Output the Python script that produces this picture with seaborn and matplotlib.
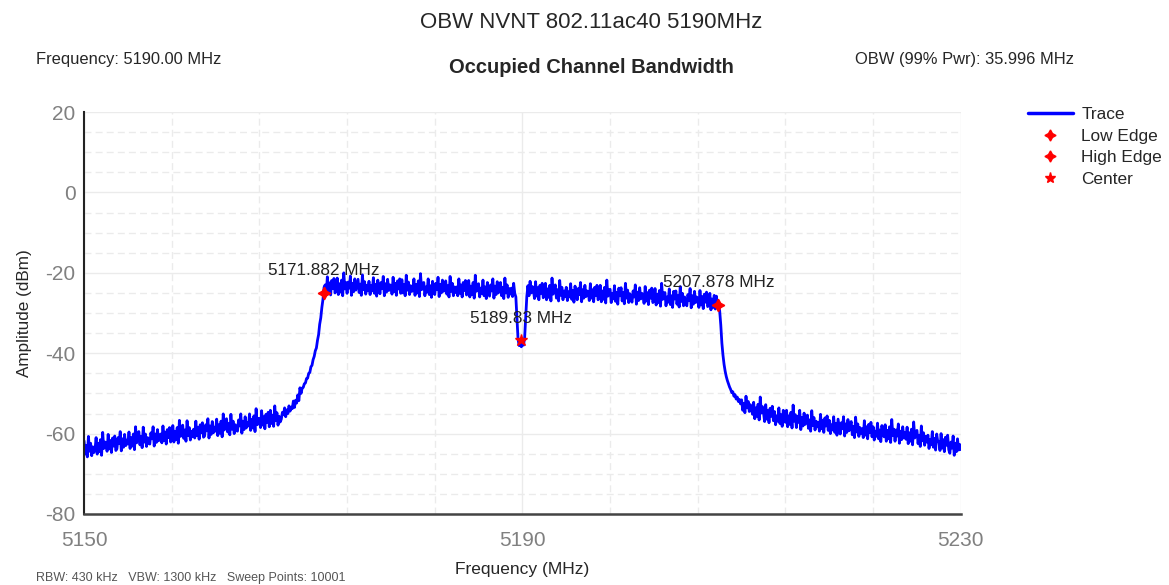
import numpy as np
import pandas as pd
import seaborn as sns
import matplotlib.pyplot as plt
from matplotlib.lines import Line2D
from matplotlib.ticker import FixedLocator

# trace amplitude (dBm), one value every 0.1 MHz from 5150 to 5230 MHz (one row = 1 MHz)
amp = [
    -61.8, -65.1, -63.0, -65.8, -60.7, -64.4, -62.4, -65.5, -63.3, -64.7,
    -64.0, -61.0, -65.1, -62.4, -64.5, -61.5, -65.4, -59.7, -63.7, -62.1,
    -62.2, -64.4, -60.2, -63.8, -61.7, -64.7, -61.1, -63.1, -60.6, -64.2,
    -63.8, -61.0, -62.5, -59.5, -64.3, -61.3, -63.4, -60.2, -63.0, -61.6,
    -62.6, -59.6, -63.7, -61.0, -63.1, -60.1, -64.0, -58.3, -62.3, -60.7,
    -59.5, -62.8, -60.7, -63.5, -58.4, -62.1, -60.1, -63.2, -61.0, -62.4,
    -62.6, -59.8, -61.3, -58.3, -63.1, -60.1, -62.2, -59.0, -61.8, -60.4,
    -60.1, -62.3, -58.1, -61.7, -59.6, -62.6, -59.0, -61.0, -58.5, -62.1,
    -61.0, -58.0, -62.1, -59.4, -61.5, -58.5, -62.4, -56.7, -60.7, -59.1,
    -57.9, -61.2, -59.1, -61.9, -56.8, -60.5, -58.5, -61.6, -59.4, -60.8,
    -58.9, -61.1, -56.9, -60.5, -58.4, -61.4, -57.8, -59.8, -57.3, -60.9,
    -60.6, -57.8, -59.3, -56.3, -61.1, -58.1, -60.2, -57.0, -59.8, -58.4,
    -59.4, -56.4, -60.5, -57.8, -59.9, -56.9, -60.8, -55.1, -59.1, -57.5,
    -56.3, -59.6, -57.5, -60.3, -55.2, -58.9, -56.9, -60.0, -57.8, -59.2,
    -59.4, -56.6, -58.1, -55.1, -59.9, -56.9, -59.0, -55.8, -58.6, -57.2,
    -58.1, -55.1, -59.2, -56.5, -58.6, -55.6, -59.5, -53.8, -57.8, -56.2,
    -56.3, -58.5, -54.3, -57.9, -55.8, -58.8, -55.2, -57.2, -54.7, -58.3,
    -54.2, -57.5, -55.4, -58.2, -53.1, -56.8, -54.8, -57.9, -55.7, -57.1,
    -56.4, -54.7, -55.3, -53.6, -55.8, -54.1, -55.0, -53.1, -54.4, -53.4,
    -53.8, -51.9, -53.5, -51.7, -52.4, -50.4, -51.8, -48.6, -50.0, -48.7,
    -48.5, -47.6, -47.4, -46.3, -46.2, -45.0, -44.8, -43.4, -43.0, -41.6,
    -40.8, -39.4, -38.7, -36.8, -35.4, -32.8, -31.2, -28.6, -26.6, -23.6,
    -23.0, -25.2, -21.0, -24.6, -22.5, -25.5, -21.9, -23.9, -21.4, -25.0,
    -24.3, -21.3, -25.4, -22.7, -24.8, -21.8, -25.7, -20.0, -24.0, -22.4,
    -25.1, -22.3, -23.8, -20.8, -25.6, -22.6, -24.7, -21.5, -24.3, -22.9,
    -21.6, -24.9, -22.8, -25.6, -20.5, -24.2, -22.2, -25.3, -23.1, -24.5,
    -22.1, -25.4, -23.2, -24.5, -21.2, -25.1, -22.9, -25.8, -21.8, -23.7,
    -25.2, -22.4, -23.9, -20.9, -25.7, -22.7, -24.8, -21.6, -24.4, -23.0,
    -23.1, -25.3, -21.1, -24.7, -22.6, -25.6, -22.0, -24.0, -21.5, -25.1,
    -21.7, -25.0, -22.9, -25.7, -20.6, -24.3, -22.3, -25.4, -23.2, -24.6,
    -24.5, -21.5, -25.6, -22.9, -25.0, -22.0, -25.9, -20.2, -24.2, -22.6,
    -22.4, -25.7, -23.5, -24.8, -21.5, -25.4, -23.2, -26.1, -22.1, -24.0,
    -25.4, -22.6, -24.1, -21.1, -25.9, -22.9, -25.0, -21.8, -24.6, -23.2,
    -22.0, -25.3, -23.2, -26.0, -20.9, -24.6, -22.6, -25.7, -23.5, -24.9,
    -23.5, -25.7, -21.5, -25.1, -23.0, -26.0, -22.4, -24.4, -21.9, -25.5,
    -24.9, -21.9, -26.0, -23.3, -25.4, -22.4, -26.3, -20.6, -24.6, -23.0,
    -22.7, -26.0, -23.8, -25.1, -21.8, -25.7, -23.5, -26.4, -22.4, -24.3,
    -25.8, -23.0, -24.5, -21.5, -26.3, -23.3, -25.4, -22.2, -25.0, -23.6,
    -22.4, -25.7, -23.6, -26.4, -21.3, -25.0, -23.0, -26.1, -23.9, -25.3,
    -23.8, -25.9, -22.6, -25.1, -26.0, -31.5, -36.5, -38.1, -36.9, -38.4,
    -36.8, -38.0, -36.2, -31.0, -25.9, -23.2, -25.7, -22.1, -25.0, -23.4,
    -24.2, -26.4, -22.2, -25.8, -23.7, -26.7, -23.1, -25.1, -22.6, -26.2,
    -25.6, -22.6, -26.7, -24.0, -26.1, -23.1, -27.0, -21.3, -25.3, -23.7,
    -23.0, -26.3, -24.2, -27.0, -21.9, -25.6, -23.6, -26.7, -24.5, -25.9,
    -23.6, -26.9, -24.7, -26.0, -22.7, -26.6, -24.4, -27.3, -23.3, -25.2,
    -26.7, -23.9, -25.4, -22.4, -27.2, -24.2, -26.3, -23.1, -25.9, -24.5,
    -24.7, -26.9, -22.7, -26.3, -24.2, -27.2, -23.6, -25.6, -23.1, -26.7,
    -26.1, -23.1, -27.2, -24.5, -26.6, -23.6, -27.5, -21.8, -25.8, -24.2,
    -24.1, -27.4, -25.2, -26.5, -23.2, -27.1, -24.9, -27.8, -23.8, -25.7,
    -23.7, -27.0, -24.9, -27.7, -22.6, -26.3, -24.3, -27.4, -25.2, -26.6,
    -27.3, -24.5, -26.0, -23.0, -27.8, -24.8, -26.9, -23.7, -26.5, -25.1,
    -25.4, -27.6, -23.4, -27.0, -24.9, -27.9, -24.3, -26.3, -23.8, -27.4,
    -26.9, -23.9, -28.0, -25.3, -27.4, -24.4, -28.3, -22.6, -26.6, -25.0,
    -24.9, -28.2, -26.0, -27.3, -24.0, -27.9, -25.7, -28.6, -24.6, -26.5,
    -24.5, -27.8, -25.7, -28.5, -23.4, -27.1, -25.1, -28.2, -26.0, -27.4,
    -28.2, -25.4, -26.9, -23.9, -28.7, -25.7, -27.8, -24.6, -27.4, -26.0,
    -26.4, -28.6, -24.4, -28.0, -25.9, -28.9, -25.3, -27.3, -24.8, -28.4,
    -28.1, -25.1, -29.2, -26.5, -28.6, -25.6, -29.0, -25.8, -28.4, -28.0,
    -29.5, -33.0, -37.5, -40.5, -42.8, -44.5, -45.8, -46.8, -47.6, -48.4,
    -49.0, -49.8, -49.6, -50.7, -50.3, -51.4, -50.9, -52.0, -51.5, -52.6,
    -51.6, -54.2, -52.5, -54.8, -50.7, -53.6, -52.0, -54.5, -52.8, -53.9,
    -55.2, -52.2, -56.3, -53.6, -55.7, -52.7, -56.6, -50.9, -54.9, -53.3,
    -54.8, -57.0, -52.8, -56.4, -54.3, -57.3, -53.7, -55.7, -53.2, -56.8,
    -54.5, -57.8, -55.6, -56.9, -53.6, -57.5, -55.3, -58.2, -54.2, -56.1,
    -57.2, -54.2, -58.3, -55.6, -57.7, -54.7, -58.6, -52.9, -56.9, -55.3,
    -58.5, -55.7, -57.2, -54.2, -59.0, -56.0, -58.1, -54.9, -57.7, -56.3,
    -55.4, -58.7, -56.6, -59.4, -54.3, -58.0, -56.0, -59.1, -56.9, -58.3,
    -57.2, -59.4, -55.2, -58.8, -56.7, -59.7, -56.1, -58.1, -55.6, -59.2,
    -56.7, -60.0, -57.8, -59.1, -55.8, -59.7, -57.5, -60.4, -56.4, -58.3,
    -60.1, -57.3, -58.8, -55.8, -60.6, -57.6, -59.7, -56.5, -59.3, -57.9,
    -57.0, -60.3, -58.2, -61.0, -55.9, -59.6, -57.6, -60.7, -58.5, -59.9,
    -58.8, -61.0, -56.8, -60.4, -58.3, -61.3, -57.7, -59.7, -57.2, -60.8,
    -58.3, -61.6, -59.4, -60.7, -57.4, -61.3, -59.1, -62.0, -58.0, -59.9,
    -60.8, -57.8, -61.9, -59.2, -61.3, -58.3, -62.2, -56.5, -60.5, -58.9,
    -61.9, -59.1, -60.6, -57.6, -62.4, -59.4, -61.5, -58.3, -61.1, -59.7,
    -61.4, -58.4, -62.5, -59.8, -61.9, -58.9, -62.8, -57.1, -61.1, -59.5,
    -59.2, -62.5, -60.4, -63.2, -58.1, -61.8, -59.8, -62.9, -60.7, -62.1,
    -60.4, -63.7, -61.5, -62.8, -59.5, -63.4, -61.2, -64.1, -60.1, -62.0,
    -62.0, -64.2, -60.0, -63.6, -61.5, -64.5, -60.9, -62.9, -60.4, -64.0,
    -64.9, -62.1, -63.6, -60.6, -65.4, -62.4, -64.5, -61.3, -64.1, -62.7,
    -64.0,
]
freq = np.linspace(5150, 5230, len(amp))

x_ticks = [5150, 5190, 5230]
x_minor = [5158, 5166, 5174, 5182, 5198, 5206, 5214, 5222]
y_ticks = [20, 0, -20, -40, -60, -80]

# markers
low_edge = (5171.882, -25.0)
high_edge = (5207.878, -28.0)
center = (5189.83, -36.8)

df = pd.DataFrame({'freq': freq, 'amp': amp})

sns.set_style('white')
plt.rcParams['font.family'] = ['Liberation Sans', 'DejaVu Sans']
plt.rcParams['axes.unicode_minus'] = False

fig = plt.figure(figsize=(11.69, 5.85), dpi=100)
ax = fig.add_axes([0.0719, 0.1214, 0.750, 0.687])

sns.lineplot(data=df, x='freq', y='amp', color='blue', linewidth=2.0, ax=ax)

star4 = (4, 1, 0)
ax.plot(*low_edge, marker=star4, color='red', markersize=9, linestyle='none', zorder=5)
ax.plot(*high_edge, marker=star4, color='red', markersize=9, linestyle='none', zorder=5)
ax.plot(*center, marker='*', color='red', markersize=9, linestyle='none', zorder=5)

for (x, y), lbl in [(low_edge, '5171.882 MHz'), (high_edge, '5207.878 MHz'), (center, '5189.83 MHz')]:
    ax.annotate(lbl, (x, y), xytext=(0, 16), textcoords='offset points',
                ha='center', va='center', fontsize=12.3, color='#222222', zorder=6)

ax.set_xlim(5150, 5230)
ax.set_ylim(-80, 20)
ax.xaxis.set_major_locator(FixedLocator(x_ticks))
ax.xaxis.set_minor_locator(FixedLocator(x_minor))
ax.yaxis.set_major_locator(FixedLocator(y_ticks))
ax.yaxis.set_minor_locator(FixedLocator(list(range(-75, 20, 5))))
ax.grid(which='major', color='#ebebeb', linewidth=1.0, linestyle='-')
ax.grid(which='minor', color='#ebebeb', linewidth=1.0, linestyle=(0, (5, 3)))
ax.set_axisbelow(True)
ax.tick_params(which='both', length=0)
ax.tick_params(axis='y', labelsize=15, labelcolor='#808080', pad=6)
ax.tick_params(axis='x', labelsize=15, labelcolor='#808080', pad=12)

for s in ['top', 'right']:
    ax.spines[s].set_visible(False)
ax.spines['left'].set_color('#222222')
ax.spines['bottom'].set_color('#444444')
ax.spines['left'].set_linewidth(1.5)
ax.spines['bottom'].set_linewidth(1.8)

ax.set_xlabel('Frequency (MHz)', fontsize=12.5, labelpad=9)
ax.set_ylabel('Amplitude (dBm)', fontsize=12.3, labelpad=10)

fig.text(0.506, 0.962, 'OBW NVNT 802.11ac40 5190MHz', ha='center', va='center', fontsize=16)
fig.text(0.506, 0.885, 'Occupied Channel Bandwidth', ha='center', va='center', fontsize=14.5, fontweight='bold')
fig.text(0.031, 0.899, 'Frequency: 5190.00 MHz', ha='left', va='center', fontsize=11.9)
fig.text(0.731, 0.899, 'OBW (99% Pwr): 35.996 MHz', ha='left', va='center', fontsize=11.9)
fig.text(0.031, 0.002, 'RBW: 430 kHz   VBW: 1300 kHz   Sweep Points: 10001', ha='left', va='bottom',
         fontsize=9, color='#555555')

handles = [
    Line2D([], [], color='blue', linewidth=2.5, label='Trace'),
    Line2D([], [], color='red', marker=star4, markersize=8, linestyle='none', label='Low Edge'),
    Line2D([], [], color='red', marker=star4, markersize=8, linestyle='none', label='High Edge'),
    Line2D([], [], color='red', marker='*', markersize=8, linestyle='none', label='Center'),
]
fig.legend(handles=handles, loc='upper left', bbox_to_anchor=(0.872, 0.832), frameon=False,
           fontsize=12.4, handlelength=2.6, handletextpad=0.5, labelspacing=0.38, borderpad=0)

fig.savefig('out.png', dpi=100)
